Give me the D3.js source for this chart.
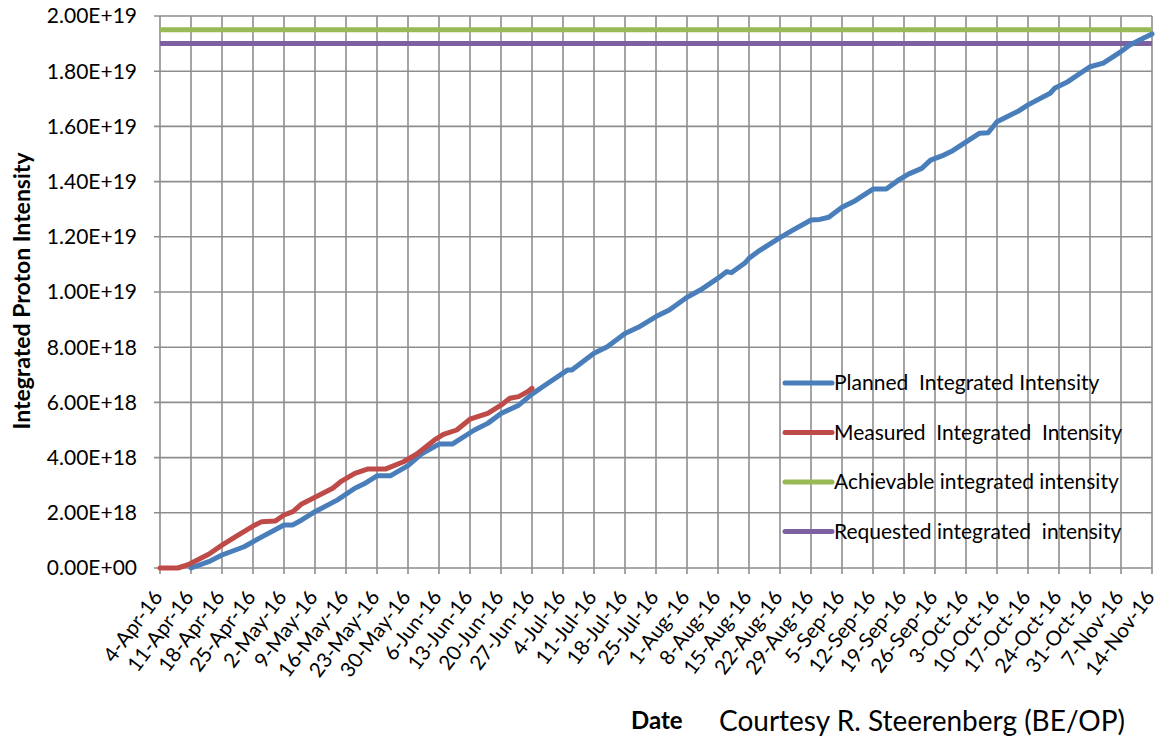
<!DOCTYPE html>
<html>
<head>
<meta charset="utf-8">
<script src="https://cdn.jsdelivr.net/npm/d3@7"></script>
<style>
  html, body { margin: 0; padding: 0; background: #fff; }
  svg { display: block; }
  text { font-family: Lato, "Open Sans", sans-serif; fill: #000; }
</style>
</head>
<body>
<svg id="chart" width="1161" height="739"></svg>
<script>
// Weekly date ticks along the x axis
const tickLabels = ["4-Apr-16","11-Apr-16","18-Apr-16","25-Apr-16","2-May-16","9-May-16","16-May-16",
  "23-May-16","30-May-16","6-Jun-16","13-Jun-16","20-Jun-16","27-Jun-16","4-Jul-16","11-Jul-16",
  "18-Jul-16","25-Jul-16","1-Aug-16","8-Aug-16","15-Aug-16","22-Aug-16","29-Aug-16","5-Sep-16",
  "12-Sep-16","19-Sep-16","26-Sep-16","3-Oct-16","10-Oct-16","17-Oct-16","24-Oct-16","31-Oct-16",
  "7-Nov-16","14-Nov-16"];

// Y tick values (protons)
const yTicks = [0, 2e18, 4e18, 6e18, 8e18, 1e19, 1.2e19, 1.4e19, 1.6e19, 1.8e19, 2e19];

// Planned integrated intensity (units of 1E18)
const plannedDates = ["2016-04-11","2016-04-15","2016-04-18","2016-04-23","2016-04-27","2016-05-02",
  "2016-05-04","2016-05-06","2016-05-09","2016-05-14","2016-05-18","2016-05-20","2016-05-23","2016-05-26",
  "2016-05-30","2016-06-02","2016-06-06","2016-06-09","2016-06-14","2016-06-17","2016-06-20","2016-06-24",
  "2016-06-27","2016-06-30","2016-07-05","2016-07-06","2016-07-11","2016-07-14","2016-07-18","2016-07-21",
  "2016-07-25","2016-07-28","2016-08-01","2016-08-04","2016-08-08","2016-08-10","2016-08-11","2016-08-14",
  "2016-08-15","2016-08-17","2016-08-22","2016-08-25","2016-08-29","2016-08-31","2016-09-02","2016-09-05",
  "2016-09-08","2016-09-12","2016-09-15","2016-09-18","2016-09-20","2016-09-23","2016-09-25","2016-09-28",
  "2016-09-30","2016-10-06","2016-10-08","2016-10-10","2016-10-15","2016-10-17","2016-10-22","2016-10-23",
  "2016-10-26","2016-10-31","2016-11-03","2016-11-07","2016-11-09","2016-11-12","2016-11-14"];
const plannedValues = [0,0.23,0.47,0.77,1.13,1.56,1.56,1.74,2.04,2.46,2.89,3.04,3.34,3.34,3.71,4.13,4.49,
  4.49,5.0,5.24,5.6,5.9,6.3,6.63,7.17,7.17,7.78,8.02,8.5,8.72,9.11,9.35,9.81,10.07,10.5,10.74,10.7,11.04,
  11.22,11.46,11.97,12.25,12.61,12.63,12.71,13.07,13.31,13.73,13.73,14.08,14.27,14.48,14.78,14.96,15.12,
  15.75,15.77,16.17,16.57,16.78,17.2,17.38,17.62,18.16,18.29,18.71,18.95,19.19,19.35];

// Measured integrated intensity (units of 1E18)
const measuredDates = ["2016-04-04","2016-04-08","2016-04-10","2016-04-11","2016-04-15","2016-04-18",
  "2016-04-21","2016-04-25","2016-04-27","2016-04-30","2016-05-02","2016-05-04","2016-05-06","2016-05-09",
  "2016-05-13","2016-05-15","2016-05-18","2016-05-21","2016-05-25","2016-05-29","2016-06-01","2016-06-05",
  "2016-06-07","2016-06-10","2016-06-13","2016-06-17","2016-06-20","2016-06-22","2016-06-24","2016-06-26",
  "2016-06-27"];
const measuredValues = [0,0,0.1,0.17,0.5,0.83,1.13,1.52,1.68,1.7,1.92,2.04,2.32,2.56,2.89,3.15,3.43,3.59,
  3.59,3.85,4.13,4.64,4.84,5.0,5.39,5.6,5.9,6.15,6.21,6.39,6.51];

// Constant reference levels (units of 1E18)
const achievableLevel = 19.5;
const requestedLevel = 19.0;

const seriesNames = ["Planned  Integrated Intensity", "Measured  Integrated  Intensity",
  "Achievable integrated intensity", "Requested integrated  intensity"];
const seriesColors = ["#4a7ebb", "#be4b48", "#98b954", "#7d60a0"];

const parse = d3.timeParse("%Y-%m-%d");
const startDate = parse("2016-04-04");
const endDate = parse("2016-11-14");

const svg = d3.select("#chart");
const margin = { left: 160, right: 1152, top: 16, bottom: 568 };

const x = d3.scaleTime().domain([startDate, endDate]).range([margin.left, margin.right]);
const y = d3.scaleLinear().domain([0, 2e19]).range([margin.bottom, margin.top]);

const tickDates = tickLabels.map(d => d3.timeParse("%e-%b-%y")(d));

// Grid
const grid = svg.append("g").attr("stroke", "#8e8e8e").attr("stroke-width", 1.6);
grid.selectAll("line.h").data(yTicks).join("line")
  .attr("x1", margin.left - 6).attr("x2", margin.right)
  .attr("y1", d => y(d)).attr("y2", d => y(d));
grid.selectAll("line.v").data(tickDates).join("line")
  .attr("x1", d => x(d)).attr("x2", d => x(d))
  .attr("y1", margin.top).attr("y2", margin.bottom + 6);

// Y axis labels
const fmt = v => {
  if (v === 0) return "0.00E+00";
  const e = Math.floor(Math.log10(v));
  return (v / Math.pow(10, e)).toFixed(2) + "E+" + e;
};
svg.append("g").selectAll("text").data(yTicks).join("text")
  .attr("x", 137).attr("y", d => y(d)).attr("dy", "0.35em")
  .attr("text-anchor", "end").attr("font-size", 21)
  .text(fmt);

// X axis labels
svg.append("g").selectAll("text").data(tickDates).join("text")
  .attr("transform", d => `translate(${x(d) - 2},${margin.bottom + 25}) rotate(-53)`)
  .attr("text-anchor", "end").attr("dy", "0.35em").attr("font-size", 20.5)
  .text((d, i) => tickLabels[i]);

// Series
const line = d3.line().x(d => x(d[0])).y(d => y(d[1] * 1e18));
const planned = plannedDates.map((d, i) => [parse(d), plannedValues[i]]);
const measured = measuredDates.map((d, i) => [parse(d), measuredValues[i]]);

svg.append("path").datum([[startDate, achievableLevel], [endDate, achievableLevel]])
  .attr("d", line).attr("fill", "none").attr("stroke", seriesColors[2]).attr("stroke-width", 5);
svg.append("path").datum([[startDate, requestedLevel], [endDate, requestedLevel]])
  .attr("d", line).attr("fill", "none").attr("stroke", seriesColors[3]).attr("stroke-width", 5);
svg.append("path").datum(planned)
  .attr("d", line).attr("fill", "none").attr("stroke", seriesColors[0]).attr("stroke-width", 5)
  .attr("stroke-linejoin", "round").attr("stroke-linecap", "round");
svg.append("path").datum(measured)
  .attr("d", line).attr("fill", "none").attr("stroke", seriesColors[1]).attr("stroke-width", 5)
  .attr("stroke-linejoin", "round").attr("stroke-linecap", "round");

// Legend
const legend = svg.append("g").selectAll("g").data(seriesNames).join("g")
  .attr("transform", (d, i) => `translate(785,${383 + i * 49.5})`);
legend.append("line").attr("x1", 0).attr("x2", 47).attr("y1", 0).attr("y2", 0)
  .attr("stroke", (d, i) => seriesColors[i]).attr("stroke-width", 5).attr("stroke-linecap", "round");
legend.append("text").attr("x", 49).attr("dy", "0.35em").attr("font-size", 21)
  .style("white-space", "pre").text(d => d);

// Axis titles
svg.append("text")
  .attr("transform", "translate(30,291) rotate(-90)")
  .attr("text-anchor", "middle").attr("font-size", 23).attr("font-weight", "bold")
  .text("Integrated Proton Intensity");
svg.append("text").attr("x", 631).attr("y", 729).attr("font-size", 24).attr("font-weight", "bold")
  .text("Date");
svg.append("text").attr("x", 719).attr("y", 731).attr("font-size", 28)
  .text("Courtesy R. Steerenberg (BE/OP)");
</script>
</body>
</html>
